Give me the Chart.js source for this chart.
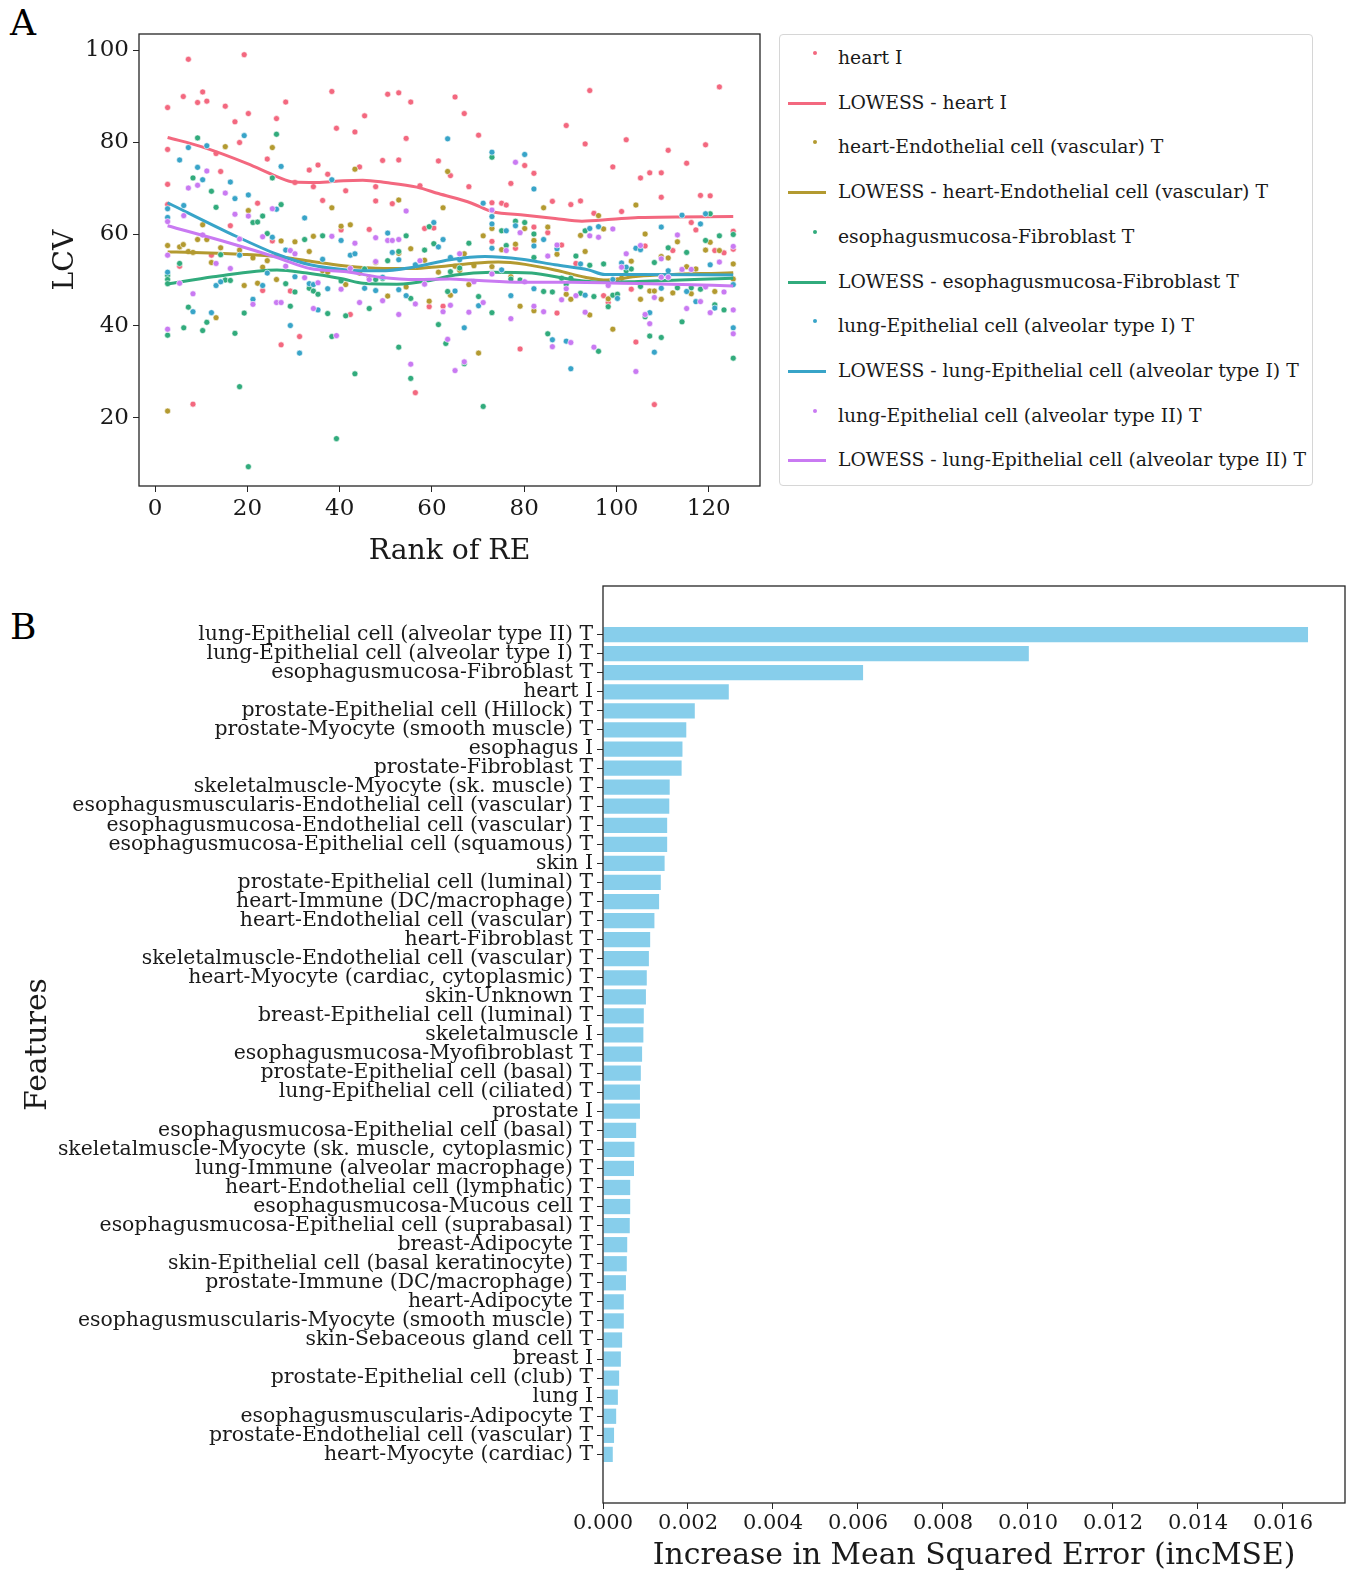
<!DOCTYPE html>
<html>
<head>
    <title>LCV and incMSE</title>
    <style>
        body { margin: 0; background: #fff; font-family: "DejaVu Serif", serif; }
        .page { position: relative; width: 1355px; height: 1574px; overflow: hidden; }
        .panel-label { position: absolute; font-size: 36px; color: #000; }
        #chartA { position: absolute; left: 0; top: 0; }
        #chartB { position: absolute; left: 0; top: 580px; }
        .legend {
            position: absolute;
            left: 779px; top: 34px;
            width: 534px; height: 452px;
            border: 1px solid #d6d6d6;
            border-radius: 4px;
            box-sizing: border-box;
        }
        .legend .row { position: absolute; left: 0; height: 30px; width: 100%; }
        .legend .key { position: absolute; left: 8px; width: 38px; top: 15px; }
        .legend .dot { position: absolute; left: 25px; top: -8px; width: 4px; height: 4px; border-radius: 50%; }
        .legend .line { position: absolute; left: 0; top: -2px; width: 38px; height: 3px; }
        .legend .txt { position: absolute; left: 58px; top: 3px; font-size: 18.8px; color: #1a1a1a; white-space: nowrap; }
    </style>
    <script src="https://cdn.jsdelivr.net/npm/chart.js@4/dist/chart.umd.min.js"></script>
</head>
<body>
<div class="page">
    <div class="panel-label" style="left:10px; top:2px;">A</div>
    <div class="panel-label" style="left:10px; top:606px;">B</div>
    <canvas id="chartA" width="770" height="580"></canvas>
    <div class="legend" id="legendA"></div>
    <canvas id="chartB" width="1355" height="994"></canvas>
</div>

<script>
    // ---- panel A: LCV vs rank of RE ----
    const seriesNames = [
        'heart I',
        'heart-Endothelial cell (vascular) T',
        'esophagusmucosa-Fibroblast T',
        'lung-Epithelial cell (alveolar type I) T',
        'lung-Epithelial cell (alveolar type II) T'
    ];
    const seriesColors = ['#f3687f', '#b39a30', '#31ab7c', '#38a4c8', '#c97af2'];
    const xTicksA = [0, 20, 40, 60, 80, 100, 120];
    const yTicksA = [20, 40, 60, 80, 100];

    const heartPts = [[2.7,87.5],[2.7,78.4],[2.7,70.8],[2.7,66.4],[7.2,98],[6.1,89.9],[9.2,88.6],[10.3,90.9],[11.2,88.9],[5.3,53.0],
        [8.2,23.0],[12.2,55.4],[14.2,73.6],[15.2,87.8],[13.2,77.5],[17.3,84.4],[18.3,79.9],[19.3,99],[20.2,86.2],[22.2,66.7],
        [24.3,76.3],[26.3,85.1],[28.3,88.7],[25.4,58.5],[23.3,47.7],[16.3,61.8],[27.3,35.9],[29.3,47.6],[30.3,71.2],[31.3,37.7],
        [33.4,73.9],[34.3,70.3],[35.3,75],[36.3,67.3],[37.4,73],[38.3,91],[39.3,83],[40.3,60.9],[41.3,69.4],[42.3,42.5],
        [43.3,82.2],[44.3,74.6],[45.4,85.7],[46.4,61],[47.8,70.3],[47.8,67.2],[49.3,76],[50.4,90.4],[51.4,66.6],[52.8,90.7],
        [52.8,76.1],[54.4,80.8],[55.4,88.7],[56.4,25.5],[57.4,70.5],[58.4,61.2],[59.4,44.2],[60.4,61.3],[61.4,75.9],[62.4,44.3],
        [65.0,89.8],[67.0,86.2],[64.0,72.7],[68.0,70.3],[70.1,81.5],[73.0,66.8],[73.0,58.4],[75.1,66.7],[76.1,66.3],[77.1,71.0],
        [78.1,56.9],[80.1,74.9],[82.1,73.2],[82.1,61.5],[79.1,35.0],[85.1,60.3],[86.1,67.1],[87.1,42.8],[88.1,57.6],[89.1,83.6],
        [90.1,66.4],[91.2,53.6],[92.2,67.2],[93.2,79.6],[94.2,91.2],[95.1,64.5],[97.2,46.6],[98.2,45.1],[99.2,74.6],[100.2,50],
        [101.1,64.9],[102.1,80.5],[103.2,48.0],[104.2,36.5],[105.2,72.2],[106.2,57.4],[107.2,73.3],[108.2,22.9],[109.7,73.3],[109.7,68.0],
        [111.2,78.2],[112.2,56.4],[114.2,52.3],[115.2,75.4],[116.2,62.5],[117.2,60.9],[118.2,68.4],[119.3,79.4],[120.3,68.3],[121.3,56.4],
        [122.3,92],[123.3,55.9],[125.3,60.6],[125.3,56.7]];
    const endoPts = [[2.7,57.5],[2.7,21.5],[5.3,57.2],[6.1,57.7],[7.2,56.2],[8.2,56.0],[9.2,58.8],[10.3,62.0],[11.2,58.8],[12.2,53.8],
        [13.2,41.8],[14.2,57.0],[15.2,79.0],[18.3,56.5],[19.3,48.8],[20.2,65.1],[21.2,54.8],[22.2,49.3],[23.3,52.8],[24.3,54.2],
        [25.4,78.8],[26.3,50.1],[27.3,58.5],[30.3,58.3],[33.4,56.2],[34.3,59.5],[36.3,52.0],[37.4,51.7],[38.3,65.7],[40.3,61.7],
        [41.3,49.0],[42.3,62.0],[43.3,74.1],[44.3,51.5],[46.4,50.6],[47.8,53.8],[50.4,46.5],[52.8,67.4],[52.8,55.8],[54.4,48.5],
        [55.4,56.8],[58.4,54.3],[59.4,45.4],[61.4,51.7],[62.4,65.7],[63.4,73.6],[64.0,46.7],[65.0,53],[66.0,52.1],[67.0,55.7],
        [68.0,49],[69.1,53.1],[70.1,34.1],[71.1,59.6],[73.0,61.2],[73.0,52.9],[75.1,56.6],[77.1,50.7],[78.1,57.8],[79.1,44.3],
        [80.1,61.2],[82.1,58.6],[82.1,43.3],[84.2,65.7],[85.1,61.5],[87.1,55.6],[89.1,46.9],[90.1,45.8],[92.2,59.7],[93.2,56.2],
        [94.2,42.4],[96.1,64.0],[97.2,61.1],[98.2,45.9],[99.2,39.3],[101.1,50.4],[103.2,54.1],[104.2,66.3],[105.2,45.8],[106.2,60.0],
        [107.2,47.6],[108.2,47.6],[109.7,55.1],[109.7,45.8],[111.2,54.8],[112.2,47.2],[113.2,58.3],[115.2,52.9],[116.2,47.0],[117.2,52.4],
        [119.3,56.5],[120.3,58.2],[121.3,47.5],[122.3,56.4],[125.3,53.5],[125.3,50.2]];
    const fibroPts = [[2.7,51.0],[2.7,50.1],[2.7,38.0],[2.7,49.2],[5.3,53.6],[6.2,39.6],[7.2,44.1],[8.2,72.2],[9.2,80.9],[10.3,39.0],
        [11.2,40.8],[12.2,69.3],[13.2,65.8],[14.2,55.5],[15.2,50.0],[16.3,49.9],[17.3,38.4],[18.3,26.8],[19.3,42.8],[20.2,9.4],
        [21.2,62.5],[22.2,62.6],[23.3,63.9],[24.3,60.1],[25.4,72.2],[26.3,81.7],[27.3,66.4],[28.3,49.2],[29.3,44.3],[30.3,47.4],
        [32.4,58.8],[33.4,48.2],[34.3,47.6],[35.3,46.9],[36.3,59.6],[37.4,42.7],[38.3,37.7],[39.3,15.5],[40.3,49.8],[41.3,42.2],
        [43.3,29.6],[45.4,52.4],[46.4,43.8],[47.8,50.1],[49.3,50.3],[50.4,54.2],[52.8,56.2],[52.8,35.4],[54.4,59.6],[55.4,46.0],
        [55.4,28.6],[58.4,56.5],[59.4,61.6],[60.4,57.9],[61.4,40.3],[63.4,47.5],[63.0,36.2],[64.0,51.8],[66.0,52.6],[67.0,31.8],
        [68.0,58.0],[70.1,46.4],[71.1,22.5],[73.0,76.7],[73.0,42.9],[75.1,60.7],[76.1,57.5],[77.1,50.2],[78.1,62.8],[80.1,62.5],
        [79.1,50],[82.1,60],[82.1,54.9],[84.2,47.5],[86.1,47.4],[85.1,38.3],[88.1,50.4],[89.1,49.1],[90.1,50.4],[91.2,55.2],
        [92.2,47.1],[93.2,60.7],[94.2,53.2],[95.1,46.4],[96.1,34.5],[97.2,53.5],[98.2,44.2],[99.2,46.7],[100.2,46.9],[102.1,52.0],
        [103.2,52.4],[105.2,48.6],[106.2,42.0],[107.2,37.8],[108.2,53.8],[109.7,37.5],[111.2,57.0],[113.2,48.3],[114.2,40.9],[115.2,56.0],
        [116.2,48.3],[118.2,48.0],[119.3,58.6],[120.3,64.4],[121.3,44.6],[122.3,59.6],[123.3,43.5],[125.3,59.9],[125.3,33.0]];
    const alvIPts = [[2.7,65.5],[2.7,63.6],[2.7,51.7],[5.3,76.1],[6.2,66.2],[7.2,78.8],[8.2,43.1],[9.2,74.5],[10.3,71.8],[11.2,79.2],
        [12.2,42.9],[13.2,48.8],[14.2,49.6],[16.3,71.3],[17.3,67.7],[18.3,55.4],[19.3,81.4],[20.2,68.5],[21.2,45.8],[23.3,48.8],
        [24.3,51.5],[25.4,59.3],[26.3,65.4],[27.3,74.7],[28.3,56.5],[29.3,40.1],[30.3,50.7],[31.3,34.1],[32.4,63.5],[33.4,49.2],
        [34.3,49.0],[35.3,43.5],[36.3,54.5],[37.4,48.1],[38.3,71.8],[40.3,58.6],[42.3,55.4],[43.3,55.7],[45.4,48.2],[47.8,47.7],
        [49.3,50.6],[50.4,60.2],[51.4,56.0],[52.8,54.4],[52.8,47.9],[54.4,46.6],[56.4,53.3],[60.4,62.5],[61.4,57.2],[62.4,58.8],
        [63.4,80.7],[64.0,54.9],[65.0,47.6],[66.0,54.4],[67.0,39.6],[70.1,44.4],[71.1,66.7],[73.0,77.8],[73.0,63.8],[73.0,62.2],
        [73.0,56.9],[75.1,52.2],[76.1,60.7],[77.1,46.6],[78.1,61.8],[80.1,77.3],[82.1,69.8],[82.1,57.4],[82.1,48.1],[84.2,58.8],
        [86.1,37.0],[87.1,56.8],[89.1,36.7],[90.1,30.7],[92.2,53.5],[93.2,46.7],[94.2,61.2],[96.1,61.6],[99.2,50.1],[100.2,46.0],
        [101.1,53.7],[102.1,52.8],[104.2,56.9],[105.2,56.6],[107.2,42.9],[108.2,34.3],[109.7,61.5],[109.7,48.2],[111.2,52.0],[114.2,64.1],
        [115.2,47.5],[117.2,45.3],[118.2,62.2],[119.3,64.4],[120.3,53.3],[121.3,43.9],[125.3,49.0],[125.3,39.6]];
    const alvIIPts = [[2.7,62.7],[2.7,55.4],[2.7,39.3],[5.3,49.3],[6.2,64.0],[7.2,70.0],[8.2,47.0],[9.2,70.6],[10.3,59.8],[11.2,73.7],
        [13.2,53.6],[15.2,68.9],[16.3,52.5],[17.3,64.3],[18.3,58.9],[20.2,63.9],[21.2,44.7],[23.3,59.4],[25.4,65.5],[26.3,45.1],
        [27.3,45.1],[28.3,53.0],[29.3,56.4],[30.3,55.7],[32.4,50.5],[34.3,43.8],[35.3,49.4],[38.3,59.5],[39.3,37.9],[40.3,48.0],
        [42.3,52.5],[43.3,58.0],[44.3,45.1],[46.4,50.1],[47.8,59.2],[47.8,54.0],[49.3,45.5],[50.4,58.6],[51.4,58.6],[52.8,58.8],
        [52.8,42.5],[54.4,65.0],[55.4,31.7],[56.4,44.8],[57.4,54.2],[58.4,49.1],[62.4,43.1],[63.4,37.1],[64.0,44.5],[65.0,30.3],
        [66.0,55.7],[67.0,32.2],[68.0,43.0],[69.1,49.6],[71.1,45.1],[73.0,65.2],[73.0,51.3],[76.1,56.4],[77.1,41.6],[78.1,75.6],
        [79.1,60.3],[80.1,49.6],[82.1,44.3],[84.2,43.1],[85.1,55.2],[86.1,35.5],[87.1,57.6],[88.1,45.7],[89.1,48.1],[90.1,36.4],
        [91.2,46.6],[93.2,43.0],[94.2,59.6],[95.1,35.4],[96.1,59.3],[98.2,48.8],[99.2,61.1],[101.1,52.8],[102.1,55.7],[104.2,30.1],
        [105.2,57.5],[106.2,42.5],[107.2,40.5],[108.2,46.2],[109.7,54.6],[109.7,50.6],[111.2,50.6],[113.2,59.8],[114.2,52.3],[115.2,43.8],
        [116.2,52.3],[118.2,45.3],[119.3,48.5],[120.3,42.9],[122.3,53.9],[123.3,47.4],[125.3,57.3],[125.3,43.5],[125.3,38.3]];

    // LOWESS curves
    const heartLowess = [[2.7,81],[10,79],[20,75.3],[26.4,72.5],[30,71.3],[35,71.2],[40.8,71.6],[45,71.7],[50,71.2],[56.7,70.2],
        [61.4,68.8],[68.6,66.7],[73,64.9],[80.2,64.1],[86.7,63.4],[92.5,62.8],[99,63.2],[104.7,63.6],[125.3,63.8]];
    const endoLowess = [[2.7,56.1],[8.3,56],[18.5,55.6],[26.4,55.1],[32.9,54.2],[40.8,53.1],[49.5,52.5],[56,52.5],[61.4,52.9],
        [68.6,53.6],[74.4,53.9],[80.2,53.4],[87.4,52.0],[93.2,50.6],[98,50.0],[104.7,50.8],[125.3,51.6]];
    const fibroLowess = [[2.7,49.1],[12.6,50.7],[26.4,52.2],[32.9,51.5],[40.8,50.2],[45.1,49.3],[52.4,49.1],[59.6,49.9],[65,51.1],
        [73,51.7],[81.6,51.5],[90.3,50.1],[97.5,49.5],[104.7,49.7],[125.3,50.4]];
    const alvILowess = [[2.7,66.8],[16.3,60.1],[26.4,55.6],[33.6,53.3],[41.5,52.2],[48.8,52.0],[56,52.8],[63.9,54.4],[71.5,55.1],
        [79.5,54.5],[86.7,53.3],[93.9,52.2],[97.5,51.2],[104.7,51.2],[125.3,51.1]];
    const alvIILowess = [[2.7,61.8],[16.3,58.0],[26.4,54.9],[33.6,52.5],[41.5,51.8],[48.8,50.6],[56.7,50.1],[63.9,50.2],[68.6,50.0],
        [79.5,49.5],[90.3,49.5],[101.1,49.3],[112,49.1],[125.3,48.7]];

    // ---- panel B: feature importance ----
    const features = [
        'lung-Epithelial cell (alveolar type II) T',
        'lung-Epithelial cell (alveolar type I) T',
        'esophagusmucosa-Fibroblast T',
        'heart I',
        'prostate-Epithelial cell (Hillock) T',
        'prostate-Myocyte (smooth muscle) T',
        'esophagus I',
        'prostate-Fibroblast T',
        'skeletalmuscle-Myocyte (sk. muscle) T',
        'esophagusmuscularis-Endothelial cell (vascular) T',
        'esophagusmucosa-Endothelial cell (vascular) T',
        'esophagusmucosa-Epithelial cell (squamous) T',
        'skin I',
        'prostate-Epithelial cell (luminal) T',
        'heart-Immune (DC/macrophage) T',
        'heart-Endothelial cell (vascular) T',
        'heart-Fibroblast T',
        'skeletalmuscle-Endothelial cell (vascular) T',
        'heart-Myocyte (cardiac, cytoplasmic) T',
        'skin-Unknown T',
        'breast-Epithelial cell (luminal) T',
        'skeletalmuscle I',
        'esophagusmucosa-Myofibroblast T',
        'prostate-Epithelial cell (basal) T',
        'lung-Epithelial cell (ciliated) T',
        'prostate I',
        'esophagusmucosa-Epithelial cell (basal) T',
        'skeletalmuscle-Myocyte (sk. muscle, cytoplasmic) T',
        'lung-Immune (alveolar macrophage) T',
        'heart-Endothelial cell (lymphatic) T',
        'esophagusmucosa-Mucous cell T',
        'esophagusmucosa-Epithelial cell (suprabasal) T',
        'breast-Adipocyte T',
        'skin-Epithelial cell (basal keratinocyte) T',
        'prostate-Immune (DC/macrophage) T',
        'heart-Adipocyte T',
        'esophagusmuscularis-Myocyte (smooth muscle) T',
        'skin-Sebaceous gland cell T',
        'breast I',
        'prostate-Epithelial cell (club) T',
        'lung I',
        'esophagusmuscularis-Adipocyte T',
        'prostate-Endothelial cell (vascular) T',
        'heart-Myocyte (cardiac) T'
    ];
    const incMSE = [0.01659, 0.01002, 0.00612, 0.00296, 0.00216, 0.00196, 0.00187, 0.00185, 0.00157, 0.00156,
        0.00151, 0.00151, 0.00145, 0.00136, 0.00132, 0.00121, 0.00111, 0.00108, 0.00103, 0.00101,
        0.00096, 0.00095, 0.00092, 0.00089, 0.00087, 0.00087, 0.00078, 0.00074, 0.00073, 0.00064,
        0.00064, 0.00063, 0.00057, 0.00056, 0.00054, 0.00049, 0.00049, 0.00045, 0.00042, 0.00038,
        0.00035, 0.00031, 0.00026, 0.00023];
    const xTicksB = [0, 0.002, 0.004, 0.006, 0.008, 0.010, 0.012, 0.014, 0.016];

    const serif = '"DejaVu Serif", serif';
    const inkColor = '#1a1a1a';

    // box round the plot area, like matplotlib spines
    const frame = {
        id: 'frame',
        afterDatasetsDraw(chart) {
            const a = chart.chartArea, ctx = chart.ctx;
            ctx.save();
            ctx.strokeStyle = '#262626';
            ctx.lineWidth = 1.3;
            ctx.strokeRect(a.left, a.top, a.right - a.left, a.bottom - a.top);
            ctx.restore();
        }
    };

    // fixed axis sizes so the plot area lands where the original has it
    const fixWidth = w => s => { s.width = w; s.paddingTop = 0; s.paddingBottom = 0; };
    const fixHeight = h => s => { s.height = h; s.paddingLeft = 0; s.paddingRight = 0; };

    const toXY = pts => pts.map(p => ({ x: p[0], y: p[1] }));
    const scatterSets = [heartPts, endoPts, fibroPts, alvIPts, alvIIPts];
    const lowessSets = [heartLowess, endoLowess, fibroLowess, alvILowess, alvIILowess];

    const datasetsA = [];
    seriesNames.forEach((name, i) => {
        datasetsA.push({
            type: 'scatter',
            label: name,
            data: toXY(scatterSets[i]),
            backgroundColor: seriesColors[i],
            borderColor: '#ffffff',
            borderWidth: 0.6,
            pointRadius: 3,
            order: 20 - 2 * i
        });
        datasetsA.push({
            type: 'line',
            label: 'LOWESS - ' + name,
            data: toXY(lowessSets[i]),
            borderColor: seriesColors[i],
            borderWidth: 3,
            pointRadius: 0,
            fill: false,
            cubicInterpolationMode: 'monotone',
            order: 19 - 2 * i
        });
    });

    new Chart(document.getElementById('chartA'), {
        type: 'scatter',
        data: { datasets: datasetsA },
        options: {
            responsive: false,
            animation: false,
            layout: { padding: { top: 34, right: 10, left: 0, bottom: 0 } },
            plugins: { legend: { display: false }, tooltip: { enabled: false } },
            scales: {
                x: {
                    type: 'linear',
                    min: -3.5, max: 131.1,
                    afterBuildTicks: s => { s.ticks = xTicksA.map(v => ({ value: v })); },
                    afterFit: fixHeight(94),
                    border: { display: false },
                    grid: { drawOnChartArea: false, tickLength: 6, color: '#262626' },
                    ticks: { font: { family: serif, size: 23 }, color: inkColor, padding: 3, maxRotation: 0 },
                    title: { display: true, text: 'Rank of RE', font: { family: serif, size: 28.3 }, color: inkColor, padding: { top: 0, bottom: 11 } }
                },
                y: {
                    type: 'linear',
                    min: 5.2, max: 103.5,
                    afterBuildTicks: s => { s.ticks = yTicksA.map(v => ({ value: v })); },
                    afterFit: fixWidth(139),
                    border: { display: false },
                    grid: { drawOnChartArea: false, tickLength: 6, color: '#262626' },
                    ticks: { font: { family: serif, size: 23 }, color: inkColor, padding: 4 },
                    title: { display: true, text: 'LCV', font: { family: serif, size: 28.3 }, color: inkColor, padding: { top: 49, bottom: 0 } }
                }
            }
        },
        plugins: [frame]
    });

    // legend for panel A, in the same order as matplotlib
    const legendBox = document.getElementById('legendA');
    const legendRowGap = 44.7;
    seriesNames.forEach((name, i) => {
        [[name, 'dot'], ['LOWESS - ' + name, 'line']].forEach((entry, k) => {
            const row = document.createElement('div');
            row.className = 'row';
            row.style.top = (24 - 15 + (2 * i + k) * legendRowGap) + 'px';
            row.innerHTML = `<div class="key"><div class="${entry[1]}" style="background:${seriesColors[i]}"></div></div>` +
                `<div class="txt">${entry[0]}</div>`;
            legendBox.appendChild(row);
        });
    });

    // ---- panel B chart ----
    new Chart(document.getElementById('chartB'), {
        type: 'bar',
        data: {
            datasets: [{
                label: 'incMSE',
                data: incMSE.map((v, i) => ({ x: v, y: i })),
                backgroundColor: '#87ceeb',
                borderWidth: 0,
                categoryPercentage: 1.0,
                barPercentage: 0.8
            }]
        },
        options: {
            indexAxis: 'y',
            responsive: false,
            animation: false,
            layout: { padding: { top: 6, right: 10, left: 0, bottom: 0 } },
            plugins: { legend: { display: false }, tooltip: { enabled: false } },
            scales: {
                x: {
                    type: 'linear',
                    min: 0, max: 0.01746,
                    afterBuildTicks: s => { s.ticks = xTicksB.map(v => ({ value: v })); },
                    afterFit: fixHeight(71),
                    border: { display: false },
                    grid: { drawOnChartArea: false, tickLength: 6, color: '#262626' },
                    ticks: {
                        font: { family: serif, size: 21 }, color: inkColor, padding: 2, maxRotation: 0,
                        callback: v => v.toFixed(3)
                    },
                    title: {
                        display: true, text: 'Increase in Mean Squared Error (incMSE)',
                        font: { family: serif, size: 29.8 }, color: inkColor, padding: { top: 0, bottom: 0 }
                    }
                },
                y: {
                    type: 'linear',
                    reverse: true,
                    offset: false,
                    min: -2.55, max: 45.55,
                    afterBuildTicks: s => { s.ticks = features.map((f, i) => ({ value: i })); },
                    afterFit: fixWidth(603),
                    border: { display: false },
                    grid: { drawOnChartArea: false, offset: false, tickLength: 6, color: '#262626' },
                    ticks: {
                        autoSkip: false,
                        font: { family: serif, size: 20.4 }, color: inkColor, padding: 4,
                        callback: v => features[v]
                    },
                    title: { display: true, text: 'Features', font: { family: serif, size: 29.8 }, color: inkColor, padding: { top: 20, bottom: 0 } }
                }
            }
        },
        plugins: [frame]
    });
</script>
</body>
</html>
